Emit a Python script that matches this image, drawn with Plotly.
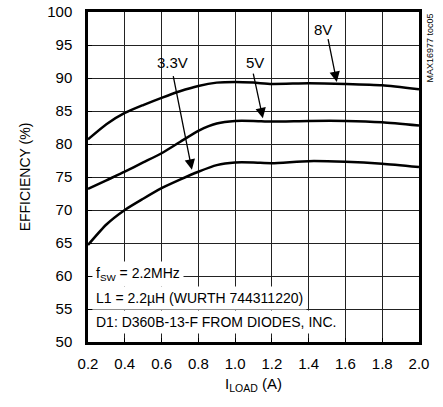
import plotly.graph_objects as go

iload = [0.2, 0.3, 0.4, 0.5, 0.6, 0.7, 0.8, 0.9, 1.0, 1.1, 1.2, 1.4, 1.6, 1.8, 2.0]
eff_8v = [80.7, 83.0, 84.7, 85.9, 87.0, 88.0, 88.8, 89.3, 89.4, 89.3, 89.1, 89.2, 89.1, 88.9, 88.3]
eff_5v = [73.2, 74.5, 75.8, 77.2, 78.6, 80.3, 82.0, 83.1, 83.5, 83.5, 83.4, 83.5, 83.5, 83.3, 82.8]
eff_33v = [64.7, 67.8, 70.0, 71.7, 73.3, 74.6, 75.8, 76.8, 77.2, 77.2, 77.1, 77.4, 77.3, 77.0, 76.5]

x_ticks = [0.2, 0.4, 0.6, 0.8, 1.0, 1.2, 1.4, 1.6, 1.8, 2.0]
x_tick_text = ["0.2", "0.4", "0.6", "0.8", "1.0", "1.2", "1.4", "1.6", "1.8", "2.0"]
y_ticks = [50, 55, 60, 65, 70, 75, 80, 85, 90, 95, 100]

FONT = "Liberation Sans Narrow, Arial Narrow, Liberation Sans, Arial"

fig = go.Figure()
for y in (eff_8v, eff_5v, eff_33v):
    fig.add_trace(go.Scatter(x=iload, y=y, mode="lines",
                             line=dict(color="black", width=2.5, shape="spline", smoothing=0.6),
                             showlegend=False, hoverinfo="skip"))

annotations = []
# series labels
for txt, lx, ly in (("3.3V", 0.657, 92.4), ("5V", 1.108, 92.4), ("8V", 1.477, 97.3)):
    annotations.append(dict(x=lx, y=ly, xref="x", yref="y", text=txt, showarrow=False,
                            font=dict(family=FONT, size=15, color="black")))
# arrows
for tx, ty, hx, hy in ((0.662, 90.5, 0.765, 76.1), (1.097, 90.9, 1.151, 83.9), (1.504, 96.1, 1.553, 89.4)):
    annotations.append(dict(x=hx, y=hy, ax=tx, ay=ty, xref="x", yref="y", axref="x", ayref="y",
                            text="", showarrow=True, arrowhead=2, arrowsize=1.6, arrowwidth=1.3,
                            arrowcolor="black", standoff=0))
# condition text box lines
for txt, ly in (("f<sub>SW</sub> = 2.2MHz", 60.3),
                ("L1 = 2.2µH (WURTH 744311220)", 56.7),
                ("D1: D360B-13-F FROM DIODES, INC.", 53.0)):
    annotations.append(dict(x=0.22, y=ly, xref="x", yref="y", text=txt, showarrow=False,
                            xanchor="left", yanchor="middle", bgcolor="white", borderpad=3,
                            font=dict(family=FONT, size=14, color="black")))
# side label
annotations.append(dict(x=1.0, y=1.0, xref="paper", yref="paper", xanchor="left", yanchor="top",
                        xshift=3, text="MAX16977 toc05", textangle=-90, showarrow=False,
                        font=dict(family=FONT, size=9, color="black")))

fig.update_layout(
    width=443, height=407,
    margin=dict(l=88, r=24, t=12, b=65, autoexpand=False),
    paper_bgcolor="white", plot_bgcolor="white",
    font=dict(family=FONT, size=15, color="black"),
    annotations=annotations,
    xaxis=dict(range=[0.2, 2.0], tickvals=x_ticks, ticktext=x_tick_text,
               showgrid=True, gridcolor="#222222", gridwidth=1,
               ticks="inside", ticklen=4, tickcolor="black",
               showline=True, linecolor="black", linewidth=2.5, mirror=True,
               zeroline=False, ticklabelstandoff=6, automargin=False,
               title=dict(text="I<sub>LOAD</sub> (A)", font=dict(size=15), standoff=8)),
    yaxis=dict(range=[50, 100], tickvals=y_ticks,
               showgrid=True, gridcolor="#222222", gridwidth=1,
               ticks="inside", ticklen=4, tickcolor="black",
               showline=True, linecolor="black", linewidth=2.5, mirror=True,
               zeroline=False, ticklabelstandoff=10, automargin=False,
               title=dict(text="EFFICIENCY (%)", font=dict(size=14), standoff=14)),
)

fig.write_html("out.html", config={"displayModeBar": False},
               post_script="document.body.style.margin='0';")
